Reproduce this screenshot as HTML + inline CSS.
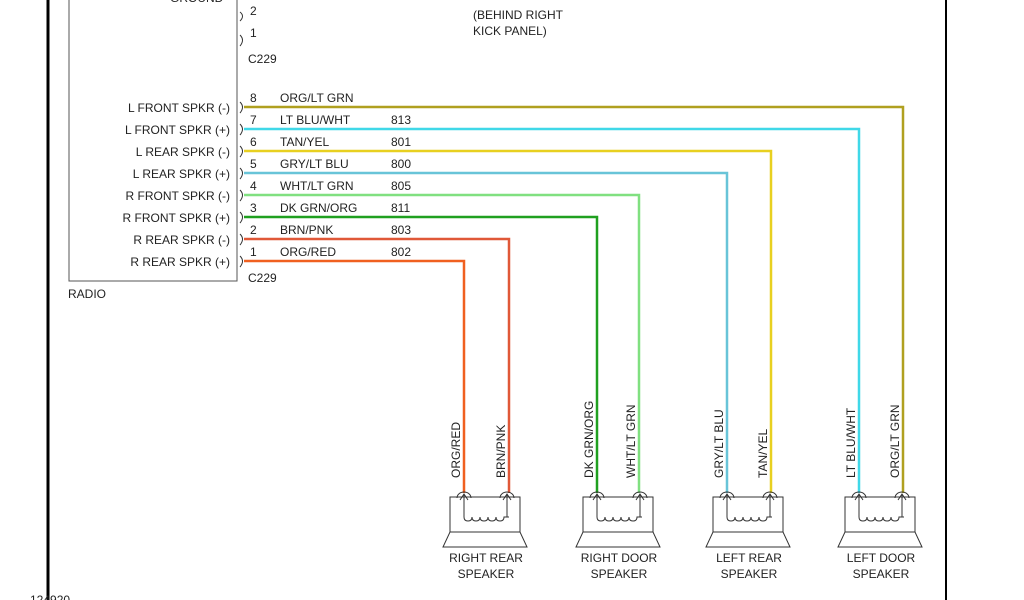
<!DOCTYPE html>
<html><head><style>
body{margin:0;background:#fff;}
svg{display:block;font-family:"Liberation Sans",sans-serif;font-size:12px;fill:#222;}
</style></head><body>
<svg width="1024" height="600" viewBox="0 0 1024 600">
<rect width="1024" height="600" fill="#fff"/>
<line x1="48" y1="0" x2="48" y2="600" stroke="#000" stroke-width="3"/>
<line x1="946" y1="0" x2="946" y2="600" stroke="#000" stroke-width="2"/>
<polyline points="69,0 69,281 237,281 237,0" fill="none" stroke="#555" stroke-width="1"/>
<text x="68" y="298">RADIO</text>
<text x="248" y="63">C229</text>
<text x="248" y="282">C229</text>
<text x="250" y="15">2</text><text x="250" y="37">1</text>
<text x="170" y="2">GROUND</text>
<text x="473" y="19">(BEHIND RIGHT</text>
<text x="473" y="35">KICK PANEL)</text>
<text x="30" y="604">124920</text>
<g fill="none" stroke="#333" stroke-width="1">
<path d="M240,12 q5,4 0,9"/><path d="M240,35 q5,5 0,11"/>
<path d="M240,102 q5,5 0,11"/><path d="M240,124 q5,5 0,11"/><path d="M240,146 q5,5 0,11"/><path d="M240,168 q5,5 0,11"/>
<path d="M240,190 q5,5 0,11"/><path d="M240,212 q5,5 0,11"/><path d="M240,234 q5,5 0,11"/><path d="M240,256 q5,5 0,11"/>
</g>
<g text-anchor="end">
<text x="230" y="112">L FRONT SPKR (-)</text>
<text x="230" y="134">L FRONT SPKR (+)</text>
<text x="230" y="156">L REAR SPKR (-)</text>
<text x="230" y="178">L REAR SPKR (+)</text>
<text x="230" y="200">R FRONT SPKR (-)</text>
<text x="230" y="222">R FRONT SPKR (+)</text>
<text x="230" y="244">R REAR SPKR (-)</text>
<text x="230" y="266">R REAR SPKR (+)</text>
</g>
<g>
<text x="250" y="102">8</text><text x="280" y="102">ORG/LT GRN</text>
<text x="250" y="124">7</text><text x="280" y="124">LT BLU/WHT</text><text x="391" y="124">813</text>
<text x="250" y="146">6</text><text x="280" y="146">TAN/YEL</text><text x="391" y="146">801</text>
<text x="250" y="168">5</text><text x="280" y="168">GRY/LT BLU</text><text x="391" y="168">800</text>
<text x="250" y="190">4</text><text x="280" y="190">WHT/LT GRN</text><text x="391" y="190">805</text>
<text x="250" y="212">3</text><text x="280" y="212">DK GRN/ORG</text><text x="391" y="212">811</text>
<text x="250" y="234">2</text><text x="280" y="234">BRN/PNK</text><text x="391" y="234">803</text>
<text x="250" y="256">1</text><text x="280" y="256">ORG/RED</text><text x="391" y="256">802</text>
</g>
<g fill="none" stroke-width="2.5">
<polyline points="244,107 903,107 903,493" stroke="#b0a020"/>
<polyline points="244,129 859,129 859,493" stroke="#40d8e8"/>
<polyline points="244,151 771,151 771,493" stroke="#e8d020"/>
<polyline points="244,173 727,173 727,493" stroke="#68c4d8"/>
<polyline points="244,195 639,195 639,493" stroke="#80e080"/>
<polyline points="244,217 597,217 597,493" stroke="#20a020"/>
<polyline points="244,239 509,239 509,493" stroke="#e05838"/>
<polyline points="244,261 464,261 464,493" stroke="#f06020"/>
</g>
<g text-anchor="start">
<text transform="translate(460,478) rotate(-90)">ORG/RED</text>
<text transform="translate(505,478) rotate(-90)">BRN/PNK</text>
<text transform="translate(593,478) rotate(-90)">DK GRN/ORG</text>
<text transform="translate(635,478) rotate(-90)">WHT/LT GRN</text>
<text transform="translate(723,478) rotate(-90)">GRY/LT BLU</text>
<text transform="translate(767,478) rotate(-90)">TAN/YEL</text>
<text transform="translate(855,478) rotate(-90)">LT BLU/WHT</text>
<text transform="translate(899,478) rotate(-90)">ORG/LT GRN</text>
</g>
<defs>
<g id="spk" fill="none" stroke="#333" stroke-width="1">
<rect x="0" y="7" width="70" height="35"/>
<polygon points="0,42 70,42 77,57 -7,57"/>
<path d="M7,8 a7,6 0 0 1 14,0"/>
<path d="M50,8 a7,6 0 0 1 14,0"/>
<path d="M14,4 V27 M10,10 L14,4 L18,10"/>
<path d="M57,4 V27 M53,10 L57,4 L61,10"/>
<path d="M14,27 q0,4 4,4 q4,0 4,-4 q0,4 4,4 q4,0 4,-4 q0,4 4,4 q4,0 4,-4 q0,4 4,4 q4,0 4,-4 q0,4 4,4 q4,0 4,-4 h5"/>
</g>
</defs>
<use href="#spk" x="450" y="490"/>
<use href="#spk" x="583" y="490"/>
<use href="#spk" x="713" y="490"/>
<use href="#spk" x="845" y="490"/>
<g text-anchor="middle">
<text x="486" y="562">RIGHT REAR</text><text x="486" y="578">SPEAKER</text>
<text x="619" y="562">RIGHT DOOR</text><text x="619" y="578">SPEAKER</text>
<text x="749" y="562">LEFT REAR</text><text x="749" y="578">SPEAKER</text>
<text x="881" y="562">LEFT DOOR</text><text x="881" y="578">SPEAKER</text>
</g>
</svg>
</body></html>
